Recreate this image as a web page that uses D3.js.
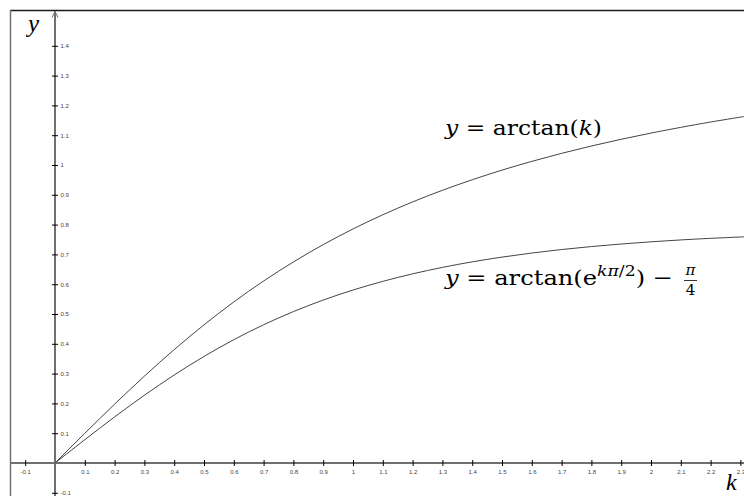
<!DOCTYPE html>
<html>
<head>
<meta charset="utf-8">
<script src="https://cdn.jsdelivr.net/npm/d3@7"></script>
<style>
  html, body { margin: 0; padding: 0; background: #fff; }
  svg { display: block; }
</style>
</head>
<body>
<svg id="chart" width="744" height="496"></svg>
<script>
// ---- data ----
const kValues = [0, 0.1, 0.2, 0.3, 0.4, 0.5, 0.6, 0.7, 0.8, 0.9, 1.0, 1.1, 1.2, 1.3, 1.4, 1.5, 1.6, 1.7, 1.8, 1.9, 2.0, 2.1, 2.2, 2.3, 2.32];
const yArctan = [0, 0.0997, 0.1974, 0.2915, 0.3805, 0.4636, 0.5404, 0.6107, 0.6747, 0.7328, 0.7854, 0.8330, 0.8761, 0.9151, 0.9505, 0.9828, 1.0122, 1.0391, 1.0637, 1.0863, 1.1071, 1.1263, 1.1442, 1.1607, 1.1640];
const yArctanExp = [0, 0.0782, 0.1546, 0.2274, 0.2953, 0.3576, 0.4138, 0.4639, 0.5081, 0.5468, 0.5804, 0.6096, 0.6347, 0.6564, 0.6750, 0.6909, 0.7046, 0.7163, 0.7263, 0.7349, 0.7422, 0.7485, 0.7539, 0.7584, 0.7593];
const xTickValues = [-0.1, 0.1, 0.2, 0.3, 0.4, 0.5, 0.6, 0.7, 0.8, 0.9, 1, 1.1, 1.2, 1.3, 1.4, 1.5, 1.6, 1.7, 1.8, 1.9, 2, 2.1, 2.2, 2.3];
const xTickLabels = ["-0.1", "0.1", "0.2", "0.3", "0.4", "0.5", "0.6", "0.7", "0.8", "0.9", "1", "1.1", "1.2", "1.3", "1.4", "1.5", "1.6", "1.7", "1.8", "1.9", "2", "2.1", "2.2", "2.3"];
const yTickValues = [-0.1, 0.1, 0.2, 0.3, 0.4, 0.5, 0.6, 0.7, 0.8, 0.9, 1, 1.1, 1.2, 1.3, 1.4];
const yTickLabels = ["-0.1", "0.1", "0.2", "0.3", "0.4", "0.5", "0.6", "0.7", "0.8", "0.9", "1", "1.1", "1.2", "1.3", "1.4"];

// ---- layout ----
const W = 744, H = 496;
const UNIT = 298, OX = 55, OY = 463;
const x = d3.scaleLinear().domain([-OX / UNIT, (W - OX) / UNIT]).range([0, W]);
const y = d3.scaleLinear().domain([-(H - OY) / UNIT, OY / UNIT]).range([H, 0]);

const svg = d3.select("#chart");
const axisColor = "#707070";

// frame lines
svg.append("line").attr("x1", 10).attr("x2", W).attr("y1", 10.5).attr("y2", 10.5)
  .attr("stroke", "#1a1a1a").attr("stroke-width", 1.5);
svg.append("line").attr("x1", 10.5).attr("x2", 10.5).attr("y1", 10).attr("y2", H)
  .attr("stroke", axisColor).attr("stroke-width", 1.5);

// axis lines
svg.append("line").attr("x1", 10).attr("x2", W).attr("y1", y(0)).attr("y2", y(0))
  .attr("stroke", axisColor).attr("stroke-width", 2);
svg.append("line").attr("x1", x(0)).attr("x2", x(0)).attr("y1", H).attr("y2", 11)
  .attr("stroke", axisColor).attr("stroke-width", 2);
// arrow at top of y-axis
svg.append("path")
  .attr("d", `M${x(0) - 3},${17.5} L${x(0)},${11.5} L${x(0) + 3},${17.5}`)
  .attr("fill", "none").attr("stroke", axisColor).attr("stroke-width", 1);

// x axis ticks
const xAxis = d3.axisBottom(x).tickValues(xTickValues)
  .tickFormat((d, i) => xTickLabels[i]).tickSizeInner(3).tickSizeOuter(0).tickPadding(4);
const gx = svg.append("g").attr("transform", `translate(0,${y(0)})`).call(xAxis);
gx.select(".domain").remove();
gx.selectAll(".tick line").attr("y1", -3).attr("y2", 3).attr("stroke", "#000").attr("stroke-width", 1);
gx.selectAll(".tick text").attr("font-family", "Liberation Sans, Arial, sans-serif")
  .attr("font-size", 6).attr("fill", "#444");

// y axis ticks
const yAxis = d3.axisRight(y).tickValues(yTickValues)
  .tickFormat((d, i) => yTickLabels[i]).tickSizeInner(3).tickSizeOuter(0).tickPadding(2.5);
const gy = svg.append("g").attr("transform", `translate(${x(0)},0)`).call(yAxis);
gy.select(".domain").remove();
gy.selectAll(".tick line").attr("x1", -3).attr("x2", 3).attr("stroke", "#000").attr("stroke-width", 1);
gy.selectAll(".tick text").attr("font-family", "Liberation Sans, Arial, sans-serif")
  .attr("font-size", 6).attr("fill", "#444");

// curves
const line = d3.line().curve(d3.curveNatural).x(d => x(d[0])).y(d => y(d[1]));
const series = [yArctan, yArctanExp];
svg.append("g").selectAll("path").data(series).join("path")
  .attr("d", vals => line(kValues.map((k, i) => [k, vals[i]])))
  .attr("fill", "none").attr("stroke", "#444").attr("stroke-width", 1);

// axis labels
const serif = "DejaVu Serif, Liberation Serif, serif";
svg.append("text").attr("x", 28).attr("y", 32).attr("font-family", "Liberation Serif, serif")
  .attr("font-style", "italic").attr("font-size", 25).attr("fill", "#000").text("y");
svg.append("text").attr("x", 726).attr("y", 490).attr("font-family", "Liberation Serif, serif")
  .attr("font-style", "italic").attr("font-size", 24).attr("fill", "#000").text("k");

// equation 1
const eq1 = svg.append("text").attr("x", 445).attr("y", 135)
  .attr("font-family", serif).attr("font-size", 21).attr("fill", "#000")
  .attr("textLength", 157).attr("lengthAdjust", "spacingAndGlyphs");
eq1.append("tspan").attr("font-style", "italic").text("y");
eq1.append("tspan").text(" = arctan(");
eq1.append("tspan").attr("font-style", "italic").text("k");
eq1.append("tspan").text(")");

// equation 2
const eq2 = svg.append("text").attr("x", 445).attr("y", 285)
  .attr("font-family", serif).attr("font-size", 21).attr("fill", "#000")
  .attr("textLength", 228).attr("lengthAdjust", "spacingAndGlyphs");
eq2.append("tspan").attr("font-style", "italic").text("y");
eq2.append("tspan").text(" = arctan(e");
eq2.append("tspan").attr("font-style", "italic").attr("font-size", 15).attr("dy", -9).text("kπ");
eq2.append("tspan").attr("font-size", 15).text("/2");
eq2.append("tspan").attr("dy", 9).text(") − ");
// fraction pi/4
svg.append("text").attr("x", 690.5).attr("y", 275).attr("text-anchor", "middle")
  .attr("font-family", serif).attr("font-size", 15).attr("font-style", "italic").attr("fill", "#000").text("π");
svg.append("line").attr("x1", 684).attr("x2", 697).attr("y1", 280.5).attr("y2", 280.5)
  .attr("stroke", "#000").attr("stroke-width", 0.8);
svg.append("text").attr("x", 690.5).attr("y", 295).attr("text-anchor", "middle")
  .attr("font-family", serif).attr("font-size", 15).attr("fill", "#000").text("4");
</script>
</body>
</html>
